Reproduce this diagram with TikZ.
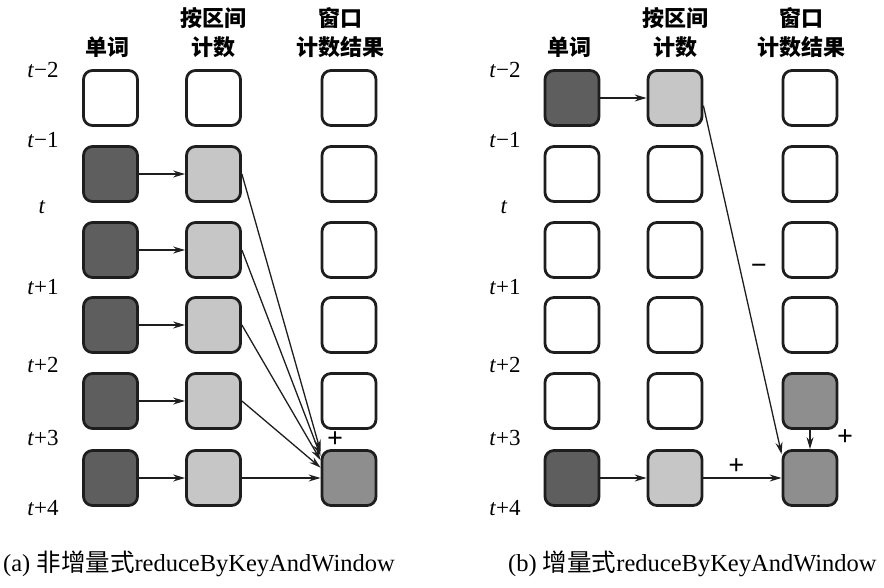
\documentclass[tikz,border=0pt]{standalone}
\usepackage{fontspec}
\setmainfont{Liberation Serif}
\newfontfamily\cjk{Noto Sans CJK SC}
\usetikzlibrary{arrows.meta}
\definecolor{edgec}{HTML}{1E1E1E}
\definecolor{darkf}{HTML}{5E5E5E}
\definecolor{lightf}{HTML}{C6C6C6}
\definecolor{midf}{HTML}{8E8E8E}
\tikzset{
  box/.style={draw=edgec, line width=2.8pt, rounded corners=9pt, minimum width=54pt, minimum height=55pt, inner sep=0pt, fill=white},
  darkbox/.style={box, fill=darkf},
  lightbox/.style={box, fill=lightf},
  midbox/.style={box, fill=midf},
  arr/.style={line width=1.3pt, draw=edgec, -{Stealth[length=12pt,width=7pt,inset=4pt]}},
  tlab/.style={font=\fontsize{23}{23}\selectfont, inner sep=0pt},
  head/.style={font=\fontsize{22}{29}\selectfont\cjk\bfseries, align=center, inner sep=0pt},
  captext/.style={font=\fontsize{24.5}{25}\selectfont, inner sep=0pt, anchor=west},
  sign/.style={font=\fontsize{28}{28}\selectfont\bfseries, inner sep=1pt}
}
\begin{document}
\begin{tikzpicture}[x=1pt,y=-1pt]
\useasboundingbox (0,0) rectangle (884,588);
% ---------------- left panel ----------------
\node[head] (hLa) at (107,47) {单词};
\node[head] (hLb) at (213,33) {按区间\\计数};
\node[head] (hLc) at (340,33) {窗口\\计数结果};
\node[tlab] (tLa) at (43,70) {\textit{t}−2};
\node[tlab] (tLb) at (43,140) {\textit{t}−1};
\node[tlab] (tLc) at (42,207) {\textit{t}};
\node[tlab] (tLd) at (43,287) {\textit{t}+1};
\node[tlab] (tLe) at (43,365) {\textit{t}+2};
\node[tlab] (tLf) at (43,438) {\textit{t}+3};
\node[tlab] (tLg) at (43,508) {\textit{t}+4};
\node[box] (La1) at (110.5,98) {};
\node[box] (Lb1) at (213.5,98) {};
\node[box] (Lc1) at (349,98) {};
\node[darkbox] (La2) at (110.5,174) {};
\node[lightbox] (Lb2) at (213.5,174) {};
\node[box] (Lc2) at (349,174) {};
\node[darkbox] (La3) at (110.5,250) {};
\node[lightbox] (Lb3) at (213.5,250) {};
\node[box] (Lc3) at (349,250) {};
\node[darkbox] (La4) at (110.5,325) {};
\node[lightbox] (Lb4) at (213.5,325) {};
\node[box] (Lc4) at (349,325) {};
\node[darkbox] (La5) at (110.5,401) {};
\node[lightbox] (Lb5) at (213.5,401) {};
\node[box] (Lc5) at (349,401) {};
\node[darkbox] (La6) at (110.5,478) {};
\node[lightbox] (Lb6) at (213.5,478) {};
\node[midbox] (Lc6) at (349,478) {};
\foreach \r in {2,...,6} {\draw[arr] (La\r) -- (Lb\r);}
\draw[arr] (Lb2.east) -- (Lc6.137);
\draw[arr] (Lb3.east) -- (Lc6.142);
\draw[arr] (Lb4.east) -- (Lc6.148);
\draw[arr] (Lb5.east) -- (Lc6.160);
\draw[arr] (Lb6.east) -- (Lc6.west);
\node[sign] (pL) at (335,440) {+};
\node[captext] (capL) at (3,564) {(a) {\cjk 非增量式}reduceByKeyAndWindow};
% ---------------- right panel ----------------
\node[head] (hRa) at (569,47) {单词};
\node[head] (hRb) at (675,33) {按区间\\计数};
\node[head] (hRc) at (801,33) {窗口\\计数结果};
\node[tlab] (tRa) at (505,70) {\textit{t}−2};
\node[tlab] (tRb) at (505,140) {\textit{t}−1};
\node[tlab] (tRc) at (504,207) {\textit{t}};
\node[tlab] (tRd) at (505,287) {\textit{t}+1};
\node[tlab] (tRe) at (505,365) {\textit{t}+2};
\node[tlab] (tRf) at (505,438) {\textit{t}+3};
\node[tlab] (tRg) at (505,508) {\textit{t}+4};
\node[darkbox] (Ra1) at (572,98) {};
\node[lightbox] (Rb1) at (675,98) {};
\node[box] (Rc1) at (810,98) {};
\node[box] (Ra2) at (572,174) {};
\node[box] (Rb2) at (675,174) {};
\node[box] (Rc2) at (810,174) {};
\node[box] (Ra3) at (572,250) {};
\node[box] (Rb3) at (675,250) {};
\node[box] (Rc3) at (810,250) {};
\node[box] (Ra4) at (572,325) {};
\node[box] (Rb4) at (675,325) {};
\node[box] (Rc4) at (810,325) {};
\node[box] (Ra5) at (572,401) {};
\node[box] (Rb5) at (675,401) {};
\node[midbox] (Rc5) at (810,401) {};
\node[darkbox] (Ra6) at (572,478) {};
\node[lightbox] (Rb6) at (675,478) {};
\node[midbox] (Rc6) at (810,478) {};
\draw[arr] (Ra1) -- (Rb1);
\draw[arr] (Rb1.-15) -- node[pos=0.47, right=9pt, sign] (mR) {−} (Rc6.140);
\draw[arr] (Ra6) -- (Rb6);
\draw[arr] (Rb6) -- node[pos=0.42, above=2pt, sign] (pR1) {+} (Rc6);
\draw[arr] (Rc5) -- (Rc6);
\node[sign] (pR2) at (845,438) {+};
\node[captext] (capR) at (508,564) {(b) {\cjk 增量式}reduceByKeyAndWindow};
\end{tikzpicture}
\end{document}
